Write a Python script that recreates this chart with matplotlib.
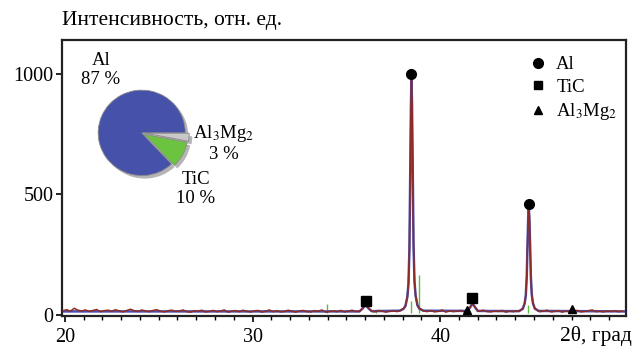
import numpy as np
import matplotlib
matplotlib.use("Agg")
import matplotlib.pyplot as plt
from matplotlib.lines import Line2D

# ---------------- data ----------------
base_x = np.round(np.arange(19.9, 49.85, 0.2), 2)
base_y = [18, 22, 16, 28, 20, 17, 21, 15, 19, 23, 14, 18, 20, 16, 22, 17, 13, 19, 24, 18,
          15, 21, 17, 14, 19, 22, 16, 13, 18, 20, 15, 17, 21, 14, 12, 18, 16, 20, 13, 15,
          19, 14, 17, 21, 12, 16, 18, 14, 20, 15, 13, 17, 19, 12, 16, 21, 14, 18, 13, 15,
          20, 16, 12, 17, 19, 14, 13, 18, 16, 21, 12, 15, 17, 14, 19, 13, 16, 20, 15, 12,
          18, 14, 17, 13, 19, 16, 12, 15, 18, 14, 20, 13, 17, 15, 12, 19, 16, 14, 18, 13,
          15, 21, 12, 17, 14, 16, 19, 13, 15, 18, 12, 16, 20, 14, 13, 17, 15, 19, 12, 16,
          14, 18, 13, 17, 15, 12, 19, 14, 16, 20, 13, 15, 18, 12, 17, 14, 16, 19, 13, 15,
          18, 21, 14, 16, 13, 17, 15, 18, 14, 16]

# Al (111) peak
al1_x = [37.85, 38.05, 38.15, 38.25, 38.31, 38.36, 38.40, 38.44, 38.47, 38.50, 38.54, 38.58, 38.63, 38.69, 38.79, 38.89, 39.1]
al1_y = [18, 26, 38, 75, 130, 270, 560, 860, 985, 870, 580, 290, 140, 80, 40, 27, 18]
# Al (200) peak
al2_x = [44.2, 44.4, 44.5, 44.56, 44.61, 44.65, 44.69, 44.72, 44.75, 44.79, 44.83, 44.88, 44.94, 45.04, 45.24]
al2_y = [16, 26, 48, 80, 155, 285, 405, 445, 408, 295, 160, 85, 50, 27, 17]
# TiC peaks
tic1_x = [35.7, 35.85, 36.03, 36.18, 36.35]
tic1_y = [15, 26, 42, 28, 16]
tic2_x = [41.45, 41.58, 41.72, 41.86, 42.0]
tic2_y = [17, 30, 48, 32, 17]

# phase markers
al_mark_x, al_mark_y = [38.47, 44.72], [1000, 460]
tic_mark_x, tic_mark_y = [36.03, 41.72], [60, 72]
mg_mark_x, mg_mark_y = [41.42, 47.0], [22, 24]

# reference sticks (green)
stick_x = [33.96, 36.6, 38.45, 38.86, 44.7]
stick_h = [45, 22, 60, 165, 40]

# pie composition
pie_labels = ["Al\n87 %", "TiC\n10 %", "Al$_3$Mg$_2$\n3 %"]
pie_vals = [87, 10, 3]

# ---------------- build curve ----------------
def merge(segments):
    xs = list(base_x)
    ys = list(base_y)
    for sx, sy in segments:
        keep = [(a, b) for a, b in zip(xs, ys) if a < sx[0] or a > sx[-1]]
        xs = [k[0] for k in keep] + list(sx)
        ys = [k[1] for k in keep] + list(sy)
    order = np.argsort(xs)
    return np.array(xs)[order], np.array(ys)[order]

segs = [(al1_x, al1_y), (al2_x, al2_y), (tic1_x, tic1_y), (tic2_x, tic2_y)]
cx, cy = merge(segs)

serif = "Liberation Serif"
plt.rcParams["font.family"] = [serif, "DejaVu Serif"]
plt.rcParams["mathtext.fontset"] = "stix"

fig = plt.figure(figsize=(6.33, 3.46), dpi=100)
ax = fig.add_axes([62 / 633, 1 - 316 / 346, (626 - 62) / 633, (316 - 40) / 346])

# blue fit (smooth baseline + peaks)
fit_x = [19.9] + [p for s in segs for p in s[0]] + [49.9]
fit_y = [15] + [p for s in segs for p in s[1]] + [15]
fo = np.argsort(fit_x)
ax.plot(np.array(fit_x)[fo], np.array(fit_y)[fo], color="#4a4fb0", lw=1.8, zorder=2)
ax.plot(cx, cy, color="#8e2b24", lw=1.1, zorder=3)
ax.vlines(stick_x, 10, np.array(stick_h), color="#5cbf3c", lw=1.0, zorder=1)

ax.plot(al_mark_x, al_mark_y, "o", color="black", ms=7, zorder=5, ls="none")
ax.plot(tic_mark_x, tic_mark_y, "s", color="black", ms=7, zorder=5, ls="none")
ax.plot(mg_mark_x, mg_mark_y, "^", color="black", ms=6, zorder=5, ls="none")

ax.set_xlim(19.85, 49.9)
ax.set_ylim(-4, 1140)
ax.set_xticks([20, 30, 40])
ax.set_xticklabels(["20", "30", "40"])
ax.set_xticks(np.arange(20, 50, 1), minor=True)
ax.set_yticks([0, 500, 1000])
ax.tick_params(axis="both", which="major", labelsize=14.5, direction="out", length=4, width=1.2, pad=2)
ax.tick_params(axis="x", which="major", pad=5)
ax.tick_params(axis="x", which="minor", direction="out", length=3, width=1)
for sp in ax.spines.values():
    sp.set_linewidth(1.6)
    sp.set_color("#222222")

fig.text(62 / 633, 1 - 21 / 346, "Интенсивность, отн. ед.", fontsize=15.5, ha="left", va="center")
fig.text(596 / 633, 1 - 336 / 346, "2θ, град", fontsize=15.5, ha="center", va="center")

handles = [Line2D([], [], marker="o", color="black", ls="none", ms=7),
           Line2D([], [], marker="s", color="black", ls="none", ms=6),
           Line2D([], [], marker="^", color="black", ls="none", ms=6)]
ax.legend(handles, ["Al", "TiC", "Al$_3$Mg$_2$"], loc="upper left",
          bbox_to_anchor=(530 / 633, 1 - 56 / 346), bbox_transform=fig.transFigure,
          frameon=False, fontsize=13.5, handlelength=0.8, handletextpad=0.6,
          labelspacing=0.3, borderpad=0, borderaxespad=0)

# pie inset
pax = fig.add_axes([96 / 633, 1 - 182 / 346, 98 / 633, 94 / 346])
explode = [0, 0.07, 0.09]
pax.pie(pie_vals, colors=["#b5b5b5"] * 3, startangle=0, counterclock=True,
        explode=explode, center=(0.07, -0.07), radius=1.0)
pax.pie(pie_vals, colors=["#4652aa", "#6cc340", "#c8c8c8"], startangle=0, counterclock=True,
        explode=explode, radius=1.0,
        wedgeprops=dict(edgecolor="#8a8a8a", linewidth=0.6))
pax.set_xlim(-1.05, 1.2)
pax.set_ylim(-1.15, 1.05)
pax.set_aspect("auto")
pax.axis("off")

fig.text(101 / 633, 1 - 70 / 346, pie_labels[0], fontsize=13.5, ha="center", va="center", linespacing=1.15)
fig.text(224 / 633, 1 - 143 / 346, pie_labels[2], fontsize=13.5, ha="center", va="center", linespacing=1.15)
fig.text(196 / 633, 1 - 189 / 346, pie_labels[1], fontsize=13.5, ha="center", va="center", linespacing=1.15)

fig.savefig("out.png", dpi=100)
